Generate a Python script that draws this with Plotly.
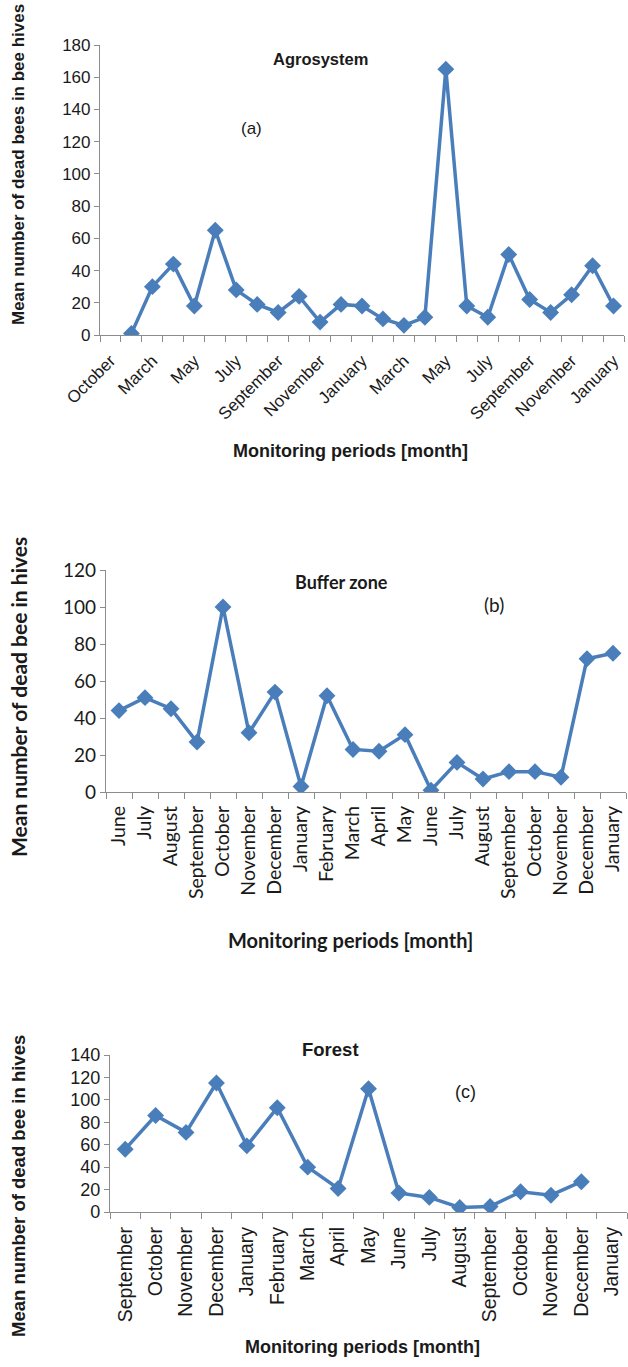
import plotly.graph_objects as go

# ---- data -------------------------------------------------------------
months_a = ["October", "February", "March", "April", "May", "June", "July",
            "August", "September", "October", "November", "December",
            "January", "February", "March", "April", "May", "June", "July",
            "August", "September", "October", "November", "December",
            "January"]
dead_a = [None, 1, 30, 44, 18, 65, 28, 19, 14, 24, 8, 19, 18, 10, 6, 11,
          165, 18, 11, 50, 22, 14, 25, 43, 18]

months_b = ["June", "July", "August", "September", "October", "November",
            "December", "January", "February", "March", "April", "May",
            "June", "July", "August", "September", "October", "November",
            "December", "January"]
dead_b = [44, 51, 45, 27, 100, 32, 54, 3, 52, 23, 22, 31, 1, 16, 7, 11, 11,
          8, 72, 75]

months_c = ["September", "October", "November", "December", "January",
            "February", "March", "April", "May", "June", "July", "August",
            "September", "October", "November", "December", "January"]
dead_c = [56, 86, 71, 115, 59, 93, 40, 21, 110, 17, 13, 4, 5, 18, 15, 27,
          None]

# ---- style ------------------------------------------------------------
W, H = 628, 1367
BLUE = "#4a7ebb"
AXIS = "#8c8c8c"
TXT = "#1a1a1a"
ARIAL = "Liberation Sans, Arial"
CALI = "Lato, Carlito, Calibri, sans-serif"


def px(x):
    return x / W


def py(y):
    return 1 - y / H


def series(values, xa, ya):
    return go.Scatter(
        x=list(range(len(values))), y=values, xaxis=xa, yaxis=ya,
        mode="lines+markers", connectgaps=False, showlegend=False,
        line=dict(color=BLUE, width=3.5),
        marker=dict(symbol="diamond", size=13, color=BLUE),
    )


def xaxis(domain, anchor, labels, shown, angle, font, standoff):
    return dict(
        domain=domain, anchor=anchor, range=[-0.5, len(labels) - 0.5],
        automargin=False,
        tickmode="array", tickvals=shown,
        ticktext=[labels[i] for i in shown], tickangle=angle,
        ticks="", ticklabelstandoff=standoff,
        showline=True, linecolor=AXIS, linewidth=1.2,
        showgrid=False, zeroline=False, tickfont=font,
        minor=dict(tickmode="linear", tick0=-0.5, dtick=1, ticks="outside",
                   ticklen=6, tickcolor=AXIS, tickwidth=1.2, showgrid=False),
    )


def yaxis(domain, anchor, top, font):
    return dict(
        domain=domain, anchor=anchor, range=[0, top], dtick=20,
        automargin=False,
        ticks="outside", ticklen=5, tickcolor=AXIS, tickwidth=1.2,
        showline=True, linecolor=AXIS, linewidth=1.2,
        showgrid=False, zeroline=False, tickfont=font,
    )


fig = go.Figure()
fig.add_trace(series(dead_a, "x", "y"))
fig.add_trace(series(dead_b, "x2", "y2"))
fig.add_trace(series(dead_c, "x3", "y3"))

fig.update_layout(
    width=W, height=H, margin=dict(l=0, r=0, t=0, b=0, autoexpand=False),
    paper_bgcolor="white", plot_bgcolor="white",
    # (a) Agrosystem
    xaxis=xaxis([px(100), px(624)], "y", months_a,
                list(range(0, len(months_a), 2)), -45,
                dict(family=ARIAL, size=17, color=TXT), 8),
    yaxis=yaxis([py(335), py(45)], "x", 180,
                dict(family=ARIAL, size=17, color=TXT)),
    # (b) Buffer zone
    xaxis2=xaxis([px(106), px(626)], "y2", months_b,
                 list(range(len(months_b))), -90,
                 dict(family=CALI, size=19.5, color=TXT), 5),
    yaxis2=yaxis([py(792), py(570)], "x2", 120,
                 dict(family=CALI, size=19, color=TXT)),
    # (c) Forest
    xaxis3=xaxis([px(110), px(627)], "y3", months_c,
                 list(range(len(months_c))), -90,
                 dict(family=ARIAL, size=19.5, color=TXT), 6),
    yaxis3=yaxis([py(1212), py(1055)], "x3", 140,
                 dict(family=ARIAL, size=18, color=TXT)),
)


def note(text, x, y, family, size, bold=False, angle=0):
    fig.add_annotation(
        text=f"<b>{text}</b>" if bold else text,
        x=px(x), y=py(y), xref="paper", yref="paper",
        xanchor="center", yanchor="middle", showarrow=False,
        textangle=angle, font=dict(family=family, size=size, color=TXT),
    )


# panel titles and letters
note("Agrosystem", 320, 59, ARIAL, 16.5, bold=True)
note("(a)", 251, 128, ARIAL, 17)
note("Buffer zone", 341, 582, CALI, 18, bold=True)
note("(b)", 494, 604, CALI, 19)
note("Forest", 330, 1049, ARIAL, 18.5, bold=True)
note("(c)", 465, 1092, ARIAL, 18)

# axis titles
note("Monitoring periods [month]", 350, 451, ARIAL, 18, bold=True)
note("Mean number of dead bees in bee hives", 18, 165, ARIAL, 17,
     bold=True, angle=-90)
note("Monitoring periods [month]", 350, 940, CALI, 20, bold=True)
note("Mean number of dead bee in hives", 18, 697, CALI, 21,
     bold=True, angle=-90)
note("Monitoring periods [month]", 362, 1347, ARIAL, 18, bold=True)
note("Mean number of dead bee in hives", 18, 1186, ARIAL, 18.5,
     bold=True, angle=-90)

fig.write_html("out.html")
